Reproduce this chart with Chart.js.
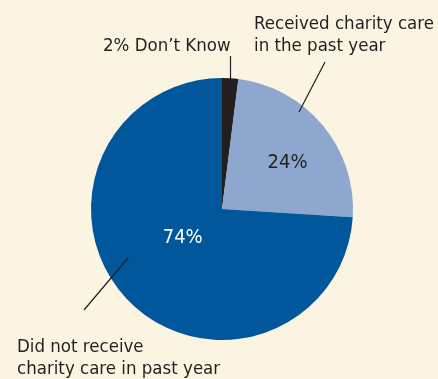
<!DOCTYPE html>
<html>
<head>
<meta charset="utf-8">
<script src="https://cdn.jsdelivr.net/npm/chart.js@4/dist/chart.umd.min.js"></script>
<style>
  html, body { margin: 0; padding: 0; background: #fbf4e2; }
  #wrap { width: 438px; height: 379px; position: relative; }
</style>
</head>
<body>
<div id="wrap"><canvas id="pie" width="438" height="379"></canvas></div>
<script>
// charity care survey shares, clockwise from 12 o'clock
const categories = ["Don't Know", 'Received charity care in the past year', 'Did not receive charity care in past year'];
const shares = [2, 24, 74];
const sliceColors = ['#231f20', '#8da7cf', '#00579b'];

const FAMILY = '"DejaVu Sans Condensed", "Liberation Sans Narrow", sans-serif';

// pick a font size so that `text` is about `width` px wide
function fitFont(ctx, text, width) {
  ctx.font = '20px ' + FAMILY;
  const size = 20 * width / ctx.measureText(text).width;
  return size.toFixed(1) + 'px ' + FAMILY;
}

// outside labels with leader lines + the percent labels inside the slices
const pieLabels = {
  id: 'pieLabels',
  afterDatasetsDraw(chart) {
    const ctx = chart.ctx;
    const arcs = chart.getDatasetMeta(0).data;
    const cx = arcs[0].x, cy = arcs[0].y, r = arcs[0].outerRadius;
    ctx.save();
    ctx.textBaseline = 'middle';

    // inside percents
    ctx.font = fitFont(ctx, '74%', 40);
    ctx.textAlign = 'center';
    ctx.fillStyle = '#231f20';
    ctx.fillText(shares[1] + '%', cx + r * 0.5, cy - r * 0.35);
    ctx.fillStyle = '#ffffff';
    ctx.fillText(shares[2] + '%', cx - r * 0.3, cy + r * 0.22);

    ctx.font = fitFont(ctx, 'Received charity care', 180);
    ctx.fillStyle = '#231f20';
    ctx.textAlign = 'left';
    ctx.fillText(shares[0] + '% Don\u2019t Know', 103, 46);
    ctx.fillText('Received charity care', 254, 24);
    ctx.fillText('in the past year', 254, 46);
    ctx.fillText('Did not receive', 17, 347);
    ctx.fillText('charity care in past year', 17, 369);

    // leader lines
    ctx.strokeStyle = '#231f20';
    ctx.lineWidth = 1.2;
    const lines = [[230.5, 56, 230.5, 80], [325, 62, 299, 112], [84, 310, 128, 258]];
    lines.forEach(l => {
      ctx.beginPath();
      ctx.moveTo(l[0], l[1]);
      ctx.lineTo(l[2], l[3]);
      ctx.stroke();
    });
    ctx.restore();
  }
};

new Chart(document.getElementById('pie'), {
  type: 'pie',
  data: {
    labels: categories,
    datasets: [{
      data: shares,
      backgroundColor: sliceColors,
      borderWidth: 0
    }]
  },
  options: {
    responsive: false,
    animation: false,
    layout: { padding: { left: 91, right: 85, top: 78, bottom: 39 } },
    plugins: { legend: { display: false }, tooltip: { enabled: false } }
  },
  plugins: [pieLabels]
});
</script>
</body>
</html>
